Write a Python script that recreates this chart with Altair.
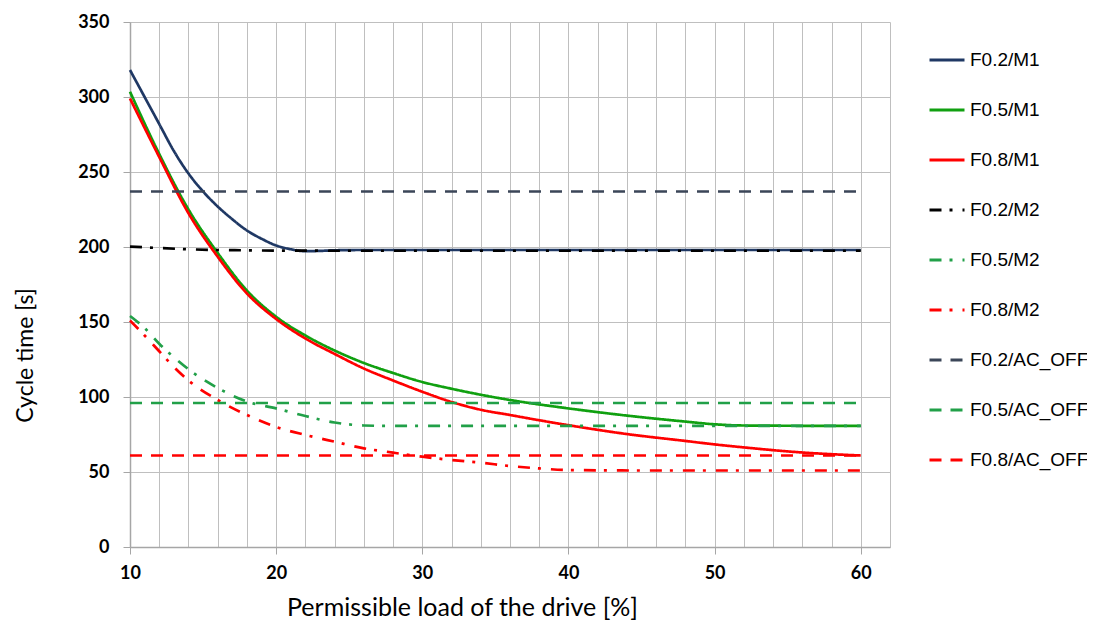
import altair as alt
import pandas as pd

# ---- data ----
series_names = ["F0.2/M1", "F0.5/M1", "F0.8/M1", "F0.2/M2", "F0.5/M2", "F0.8/M2",
                "F0.2/AC_OFF", "F0.5/AC_OFF", "F0.8/AC_OFF"]
series_colors = ["#1F3864", "#10A010", "#FF0000", "#000000", "#21A048", "#FF0000",
                 "#3B4658", "#21A048", "#FF0000"]

f02_m1_x = [10, 11, 12, 13, 14, 15, 16, 17, 18, 19, 20, 21, 22, 23, 24, 26, 30, 40, 50, 60]
f02_m1_y = [318, 300, 282, 264, 249, 237, 227, 218.5, 211, 205.5, 201, 198.5, 197.2, 197.4, 197.8, 198, 198, 198, 198, 198]

f05_m1_x = [10, 12, 14, 16, 18, 20, 22, 24, 26, 28, 30, 32, 34, 36, 40, 44, 48, 50, 52, 56, 60]
f05_m1_y = [303.5, 262, 225, 196, 171, 153.5, 141, 131, 122.7, 116, 110, 105.5, 101.5, 98, 92.4, 87.6, 83.6, 81.8, 81, 80.8, 80.7]

f08_m1_x = [10, 12, 14, 16, 18, 20, 22, 24, 26, 28, 30, 32, 34, 36, 38, 40, 44, 48, 50, 52, 56, 60]
f08_m1_y = [299, 260, 222.5, 193.5, 169, 152, 139, 128.7, 119, 111, 103.5, 96.7, 91.5, 88, 84.5, 81.2, 75.3, 70.7, 68.4, 66.4, 63, 61]

f02_m2_x = [10, 12, 14, 16, 18, 20, 25, 30, 40, 50, 60]
f02_m2_y = [200.3, 199.3, 198.5, 198, 197.8, 197.6, 197.5, 197.5, 197.5, 197.5, 197.5]

f05_m2_x = [10, 11, 12, 13, 14, 16, 18, 20, 22, 24, 26, 28, 30, 40, 50, 60]
f05_m2_y = [154, 146, 135.5, 126.5, 118.5, 106, 97, 92.4, 87.3, 83, 81, 80.7, 80.7, 80.7, 80.7, 80.7]

f08_m2_x = [10, 11, 12, 13, 14, 16, 18, 20, 22, 24, 26, 28, 30, 32, 34, 36, 38, 40, 45, 50, 60]
f08_m2_y = [151, 141, 130.5, 120, 111, 98, 88, 80, 74.7, 70.2, 65.8, 62.9, 60.2, 58, 56.2, 54, 52.4, 51.3, 51, 51, 51]

ac_off_x = [10, 60]
f02_ac_y = [237, 237]
f05_ac_y = [96, 96]
f08_ac_y = [61, 61]

x_ticks = [10, 20, 30, 40, 50, 60]
y_ticks = [0, 50, 100, 150, 200, 250, 300, 350]

pairs = [
    ("F0.2/M1", f02_m1_x, f02_m1_y),
    ("F0.5/M1", f05_m1_x, f05_m1_y),
    ("F0.8/M1", f08_m1_x, f08_m1_y),
    ("F0.2/M2", f02_m2_x, f02_m2_y),
    ("F0.5/M2", f05_m2_x, f05_m2_y),
    ("F0.8/M2", f08_m2_x, f08_m2_y),
    ("F0.2/AC_OFF", ac_off_x, f02_ac_y),
    ("F0.5/AC_OFF", ac_off_x, f05_ac_y),
    ("F0.8/AC_OFF", ac_off_x, f08_ac_y),
]
rows = []
for i, (name, xs, ys) in enumerate(pairs):
    for x, y in zip(xs, ys):
        rows.append({"series": name, "load": x, "time": y, "order": i})
df = pd.DataFrame(rows)

solid = [1, 0]
dashdot = [12, 8, 3, 10]
dashed = [12, 9]
dash_range = [solid, solid, solid, dashdot, dashdot, dashdot, dashed, dashed, dashed]

grid_vals = list(range(10, 63, 2))


def make_legend():
    return alt.Legend(title=None, orient="none", legendX=798, legendY=19,
                      symbolType="stroke", symbolSize=1225,
                      symbolStrokeWidth=3, rowPadding=21,
                      labelFont="Liberation Sans", labelFontSize=19,
                      labelColor="#000000", labelOffset=4)


chart = alt.Chart(df).mark_line(strokeWidth=2.7, interpolate="monotone").encode(
    x=alt.X("load:Q",
            scale=alt.Scale(domain=[10, 62], nice=False, zero=False),
            axis=alt.Axis(values=grid_vals,
                          labelExpr="datum.value % 10 === 0 ? datum.label : ''",
                          tickOpacity={"condition": {"test": "datum.value % 10 === 0", "value": 1}, "value": 0},
                          labelFlush=False,
                          title="Permissible load of the drive [%]",
                          titleX=332, titleY=68, titleAlign="center", titleBaseline="alphabetic",
                          titleFontSize=25, labelPadding=10)),
    y=alt.Y("time:Q",
            scale=alt.Scale(domain=[0, 350], nice=False),
            axis=alt.Axis(values=y_ticks, title="Cycle time [s]",
                          titleX=-105, titleY=333, titleAngle=-90,
                          titleAlign="center", titleBaseline="middle",
                          titleFontSize=23, labelPadding=14)),
    color=alt.Color("series:N",
                    scale=alt.Scale(domain=series_names, range=series_colors),
                    sort=series_names,
                    legend=make_legend()),
    strokeDash=alt.StrokeDash("series:N",
                              scale=alt.Scale(domain=series_names, range=dash_range),
                              sort=series_names,
                              legend=make_legend()),
    order=alt.Order("order:Q"),
).properties(
    width=760, height=525,
    autosize=alt.AutoSizeParams(type="none"),
    padding={"left": 122, "top": 14, "right": 197, "bottom": 75},
).configure_view(
    strokeWidth=0
).configure_axis(
    gridColor="#BFBFBF", gridWidth=1,
    domainColor="#A6A6A6", domainWidth=1.5,
    tickColor="#A6A6A6", tickSize=7, tickWidth=1,
    labelFont="Lato", labelFontWeight="bold", labelFontSize=18, labelColor="#000000",
    titleFont="Lato", titleFontWeight="normal", titleColor="#000000",
)

chart.save("out.html", embed_options={"renderer": "svg", "actions": False})
